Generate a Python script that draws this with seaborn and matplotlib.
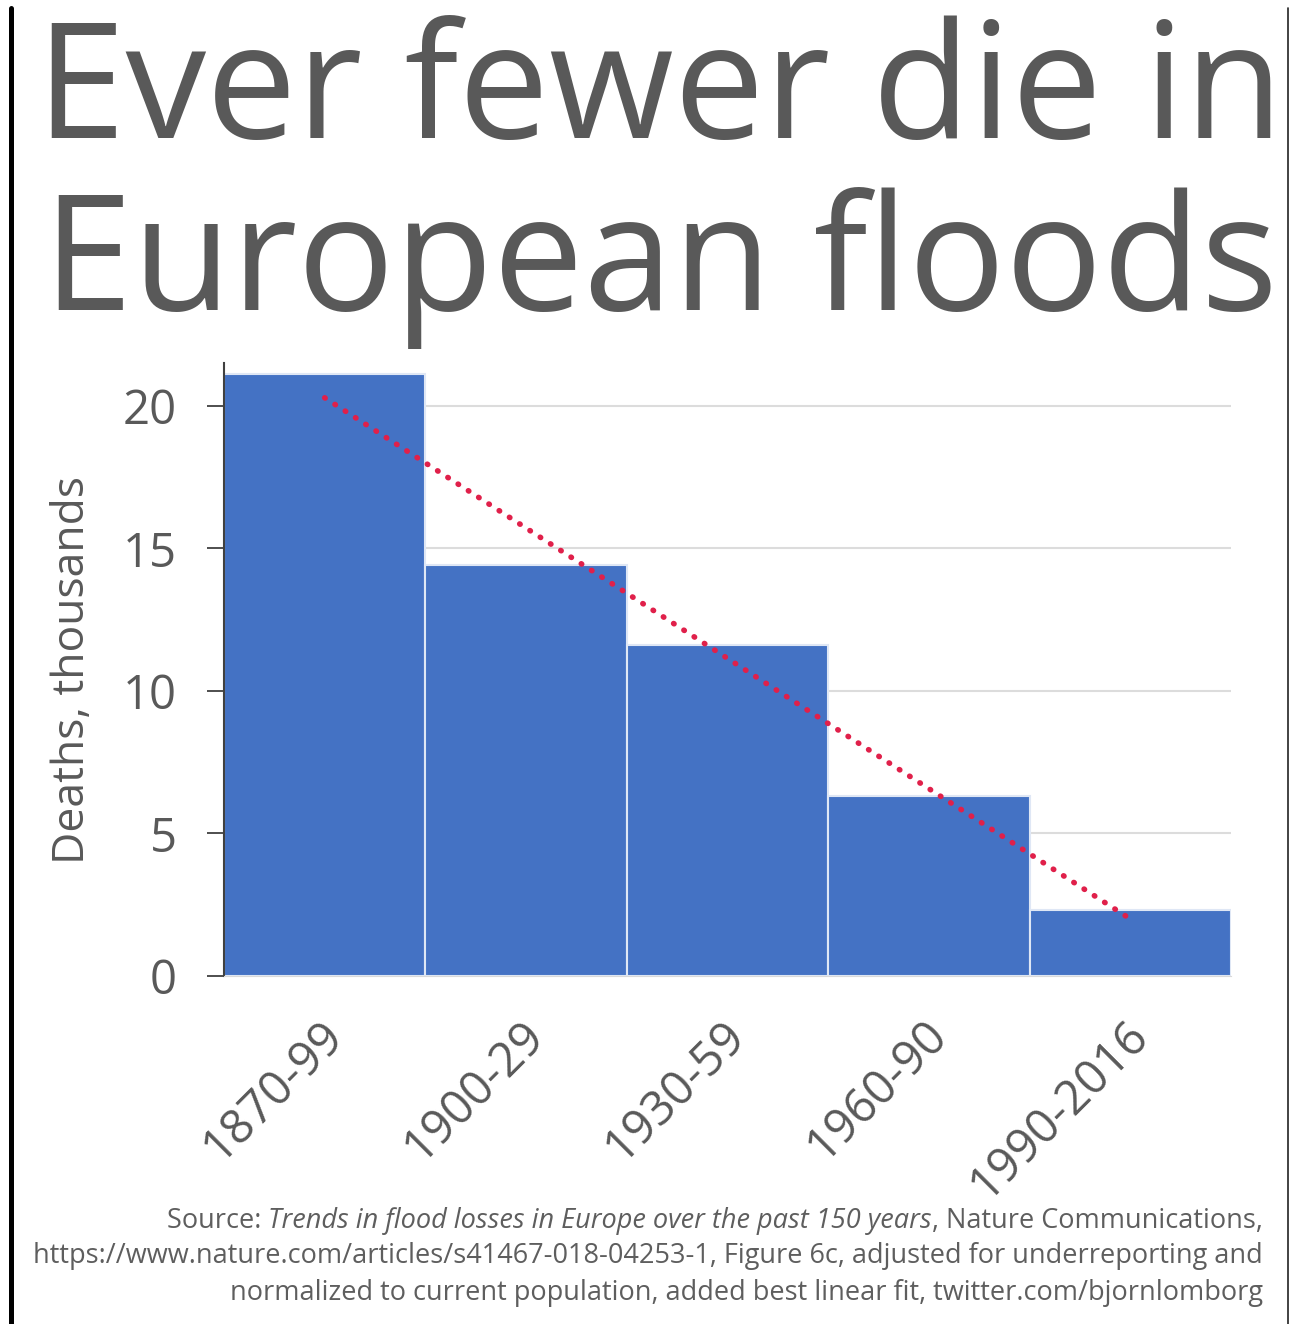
import numpy as np
import pandas as pd
import matplotlib.pyplot as plt
import matplotlib.transforms as mtransforms
import seaborn as sns
from matplotlib.lines import Line2D

# data (deaths, thousands)
periods = ['1870-99', '1900-29', '1930-59', '1960-90', '1990-2016']
deaths = [21.1, 14.4, 11.6, 6.3, 2.3]
yticks = [0, 5, 10, 15, 20]

df = pd.DataFrame({'period': periods, 'deaths': deaths})

sns.set_style('white')
plt.rcParams['font.family'] = ['Open Sans', 'DejaVu Sans']

W, H = 1291, 1324
fig = plt.figure(figsize=(W / 100, H / 100), dpi=100)
fig.patch.set_facecolor('white')

ax = fig.add_axes([224 / W, 1 - 976 / H, (1231 - 224) / W, (976 - 363) / H])

grey = '#595959'
blue = '#4472C4'

sns.barplot(data=df, x='period', y='deaths', color=blue, saturation=1,
            width=1.0, edgecolor='#dfe7f5', linewidth=1.5, ax=ax, zorder=2)

# best linear fit across the bar centres
xs = np.arange(len(deaths))
slope, icpt = np.polyfit(xs, deaths, 1)
ax.plot(xs, slope * xs + icpt, color='#e0204a', linestyle=(0, (0.1, 2.1)),
        linewidth=4.0, dash_capstyle='round', zorder=3)

ax.set_xlim(-0.5, len(deaths) - 0.5)
ax.set_ylim(0, 21.5)
ax.set_yticks(yticks)
ax.yaxis.grid(True, color='#dcdcdc', linewidth=1.5, zorder=0)
ax.set_axisbelow(True)

for s in ['top', 'right']:
    ax.spines[s].set_visible(False)
ax.spines['bottom'].set_color('#d9d9d9')
ax.spines['left'].set_color('#404040')
ax.spines['left'].set_linewidth(1.5)

ax.tick_params(axis='y', which='both', left=True, length=12, width=1.3,
               color='#404040', labelsize=34, labelcolor=grey, pad=22)
ax.tick_params(axis='x', bottom=False, labelsize=34, labelcolor=grey, pad=34)
shift = mtransforms.ScaledTranslation(0.11, 0, fig.dpi_scale_trans)
for lab in ax.get_xticklabels():
    lab.set_rotation(45)
    lab.set_ha('right')
    lab.set_va('center')
    lab.set_rotation_mode('anchor')
    lab.set_transform(lab.get_transform() + shift)

ax.set_xlabel('')
ax.set_ylabel('Deaths, thousands', fontsize=32, color=grey, labelpad=20)

# title
fig.text(660 / W, 1 - 138 / H, 'Ever fewer die in', fontsize=116, color=grey,
         ha='center', va='baseline')
fig.text(660 / W, 1 - 310 / H, 'European floods', fontsize=116, color=grey,
         ha='center', va='baseline')

# source note, right aligned, with an italic paper title
src_col = '#5e5e5e'
src_fs = 19.5
xr = 1263 / W
t3 = fig.text(xr, 1 - 1228 / H, ', Nature Communications,', fontsize=src_fs,
              color=src_col, ha='right', va='baseline')
t2 = ax.annotate('Trends in flood losses in Europe over the past 150 years',
                 xy=(0, 0), xycoords=t3, ha='right', va='bottom',
                 fontsize=src_fs, color=src_col, style='italic',
                 annotation_clip=False)
ax.annotate('Source: ', xy=(0, 0), xycoords=t2, ha='right', va='bottom',
            fontsize=src_fs, color=src_col, annotation_clip=False)
fig.text(xr, 1 - 1263 / H,
         'https://www.nature.com/articles/s41467-018-04253-1, Figure 6c, '
         'adjusted for underreporting and',
         fontsize=src_fs, color=src_col, ha='right', va='baseline')
fig.text(xr, 1 - 1300 / H,
         'normalized to current population, added best linear fit, '
         'twitter.com/bjornlomborg',
         fontsize=src_fs, color=src_col, ha='right', va='baseline')

# frame lines at the image edges
fig.add_artist(Line2D([11 / W, 11 / W], [0, 1 - 8 / H], color='black',
                      linewidth=3.6, transform=fig.transFigure))
fig.add_artist(Line2D([1288 / W, 1288 / W], [0, 1 - 8 / H], color='#222222',
                      linewidth=1.2, transform=fig.transFigure))

fig.savefig('out.png', dpi=100, facecolor='white')
